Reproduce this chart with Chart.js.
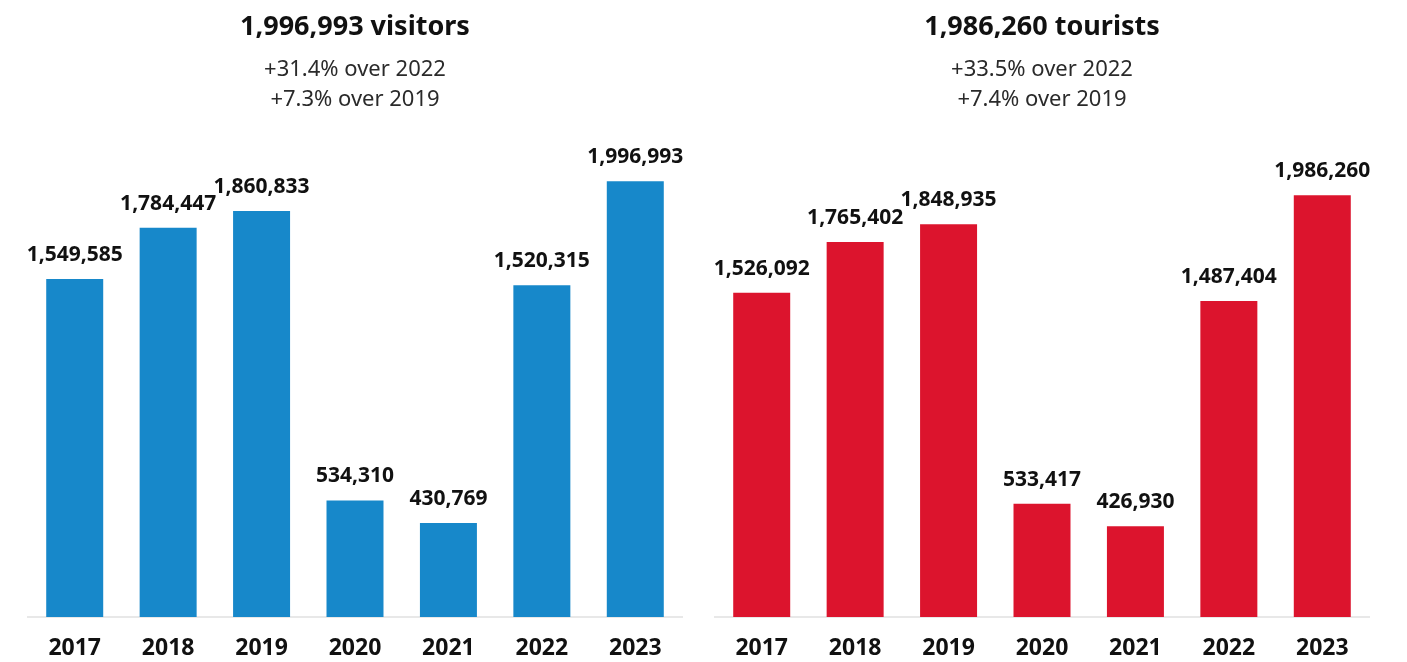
<!DOCTYPE html>
<html>
<head>
<meta charset="utf-8">
<title>Visitors and tourists, 2017–2023</title>
<script src="https://cdn.jsdelivr.net/npm/chart.js@4/dist/chart.umd.min.js"></script>
<style>
  html, body { margin: 0; padding: 0; background: #ffffff; }
  #wrap { position: relative; width: 1407px; height: 662px; overflow: hidden; }
  .panel { position: absolute; top: 0; height: 680px; }
  #left { left: 0; width: 710px; }
  #right { left: 677px; width: 730px; }
</style>
</head>
<body>
<div id="wrap">
  <div class="panel" id="left"><canvas id="visitorsChart"></canvas></div>
  <div class="panel" id="right"><canvas id="touristsChart"></canvas></div>
</div>
<script>
// Annual arrivals
const years = ['2017', '2018', '2019', '2020', '2021', '2022', '2023'];
const visitors = [1549585, 1784447, 1860833, 534310, 430769, 1520315, 1996993];
const tourists = [1526092, 1765402, 1848935, 533417, 426930, 1487404, 1986260];

// Headline text for each panel
const visitorsTitle = '1,996,993 visitors';
const visitorsNotes = ['+31.4% over 2022', '+7.3% over 2019'];
const touristsTitle = '1,986,260 tourists';
const touristsNotes = ['+33.5% over 2022', '+7.4% over 2019'];

const FONT = "'Noto Sans', 'Open Sans', sans-serif";
const INK = '#111111';

// Writes each bar's value just above it
const barValueLabels = {
  id: 'barValueLabels',
  afterDatasetsDraw(chart) {
    const ctx = chart.ctx;
    ctx.save();
    ctx.font = `700 21px ${FONT}`;
    ctx.fillStyle = INK;
    ctx.textAlign = 'center';
    ctx.textBaseline = 'alphabetic';
    chart.data.datasets.forEach((ds, di) => {
      chart.getDatasetMeta(di).data.forEach((bar, i) => {
        ctx.fillText(ds.data[i].toLocaleString('en-US'), bar.x, bar.y - 18);
      });
    });
    ctx.restore();
  }
};

function makeChart(canvasId, values, color, title, notes, yMax, sidePad) {
  return new Chart(document.getElementById(canvasId), {
    type: 'bar',
    data: {
      labels: years,
      datasets: [{
        data: values,
        backgroundColor: color,
        borderWidth: 0,
        barPercentage: 0.61,
        categoryPercentage: 1.0
      }]
    },
    options: {
      responsive: true,
      maintainAspectRatio: false,
      animation: false,
      events: [],
      layout: { padding: { left: sidePad, right: sidePad, top: 0, bottom: 0.6 } },
      plugins: {
        legend: { display: false },
        tooltip: { enabled: false },
        title: {
          display: true,
          text: title,
          color: INK,
          font: { family: FONT, size: 27, weight: '700', lineHeight: 1.2 },
          padding: { top: 11.5, bottom: 0 }
        },
        subtitle: {
          display: true,
          text: notes,
          color: '#2a2a2a',
          font: { family: FONT, size: 22, weight: '400', lineHeight: 30 / 22 },
          padding: { top: 10.8, bottom: 22.3 }
        }
      },
      scales: {
        x: {
          grid: { display: false, drawTicks: false },
          border: { display: true, color: '#e8e8e8', width: 2 },
          ticks: {
            color: INK,
            padding: 17.4,
            font: { family: FONT, size: 23, weight: '700', lineHeight: 1.2 }
          }
        },
        y: {
          display: false,
          min: 0,
          max: yMax
        }
      }
    },
    plugins: [barValueLabels]
  });
}

makeChart('visitorsChart', visitors, '#1788CA', visitorsTitle, visitorsNotes, 2200000, 28);
makeChart('touristsChart', tourists, '#DC142D', touristsTitle, touristsNotes, 2260000, 38);
</script>
</body>
</html>
